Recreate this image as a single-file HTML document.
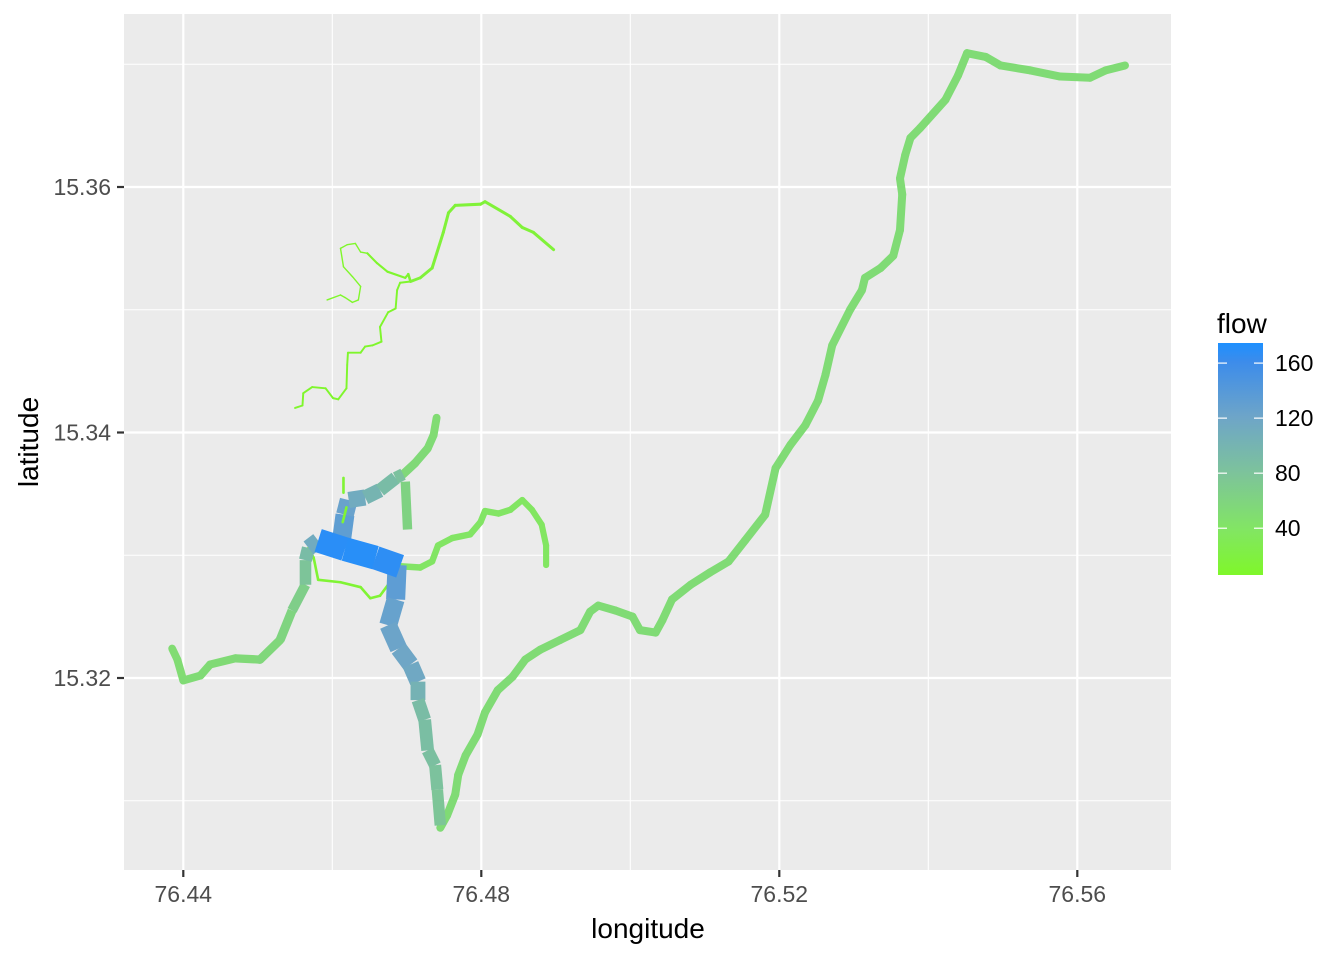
<!DOCTYPE html>
<html><head><meta charset="utf-8"><style>
html,body{margin:0;padding:0;background:#fff;}
svg{display:block;font-family:"Liberation Sans",sans-serif;}
</style></head><body>
<svg id="chart" width="1344" height="960" viewBox="0 0 1344 960">
<rect x="0" y="0" width="1344" height="960" fill="#fff"/>
<rect x="124" y="14" width="1047" height="856" fill="#EBEBEB"/>
<g id="grid"></g>
<g id="rivers"></g>
<g id="axes"></g>
<text x="648" y="938" text-anchor="middle" font-size="28" fill="#000">longitude</text>
<text x="38" y="442" text-anchor="middle" font-size="28" fill="#000" transform="rotate(-90 38 442)">latitude</text>
<g id="legend">
<text x="1217" y="333" font-size="28" fill="#000">flow</text>
<defs><linearGradient id="fg" x1="0" y1="1" x2="0" y2="0">
<stop offset="0" stop-color="#7FF72A"/><stop offset="0.2" stop-color="#82E564"/><stop offset="0.44" stop-color="#7DC39B"/><stop offset="0.68" stop-color="#6EA5C8"/><stop offset="0.92" stop-color="#3C8CEB"/><stop offset="1" stop-color="#1E90FF"/>
</linearGradient></defs>
<rect x="1218" y="343" width="45" height="232" fill="url(#fg)"/>
</g>
</svg>
<script>
const xTicks=[76.44,76.48,76.52,76.56];
const xMinor=[76.46,76.50,76.54];
const yTicks=[15.32,15.34,15.36];
const yMinor=[15.31,15.33,15.35,15.37];
const legendTicks=[40,80,120,160];

const mainLon=[76.4745,76.4754,76.4765,76.4769,76.4779,76.4795,76.4805,76.4822,76.4842,76.4859,76.4879,76.4906,76.4933,76.4946,76.4957,76.4980,76.5003,76.5013,76.5034,76.5043,76.5056,76.5081,76.5107,76.5132,76.5154,76.5181,76.5195,76.5215,76.5235,76.5252,76.5262,76.5271,76.5295,76.5311,76.5315,76.5336,76.5353,76.5362,76.5365,76.5362,76.5369,76.5376,76.5389,76.5423,76.5440,76.5452,76.5477,76.5497,76.5537,76.5577,76.5617,76.5638,76.5664];
const mainLat=[15.3078,15.3088,15.3105,15.3121,15.3137,15.3154,15.3172,15.3190,15.3201,15.3215,15.3223,15.3231,15.3239,15.3254,15.3259,15.3255,15.3250,15.3239,15.3237,15.3247,15.3264,15.3276,15.3286,15.3295,15.3312,15.3333,15.3371,15.3390,15.3406,15.3426,15.3447,15.3471,15.3500,15.3516,15.3526,15.3534,15.3544,15.3565,15.3594,15.3607,15.3626,15.3640,15.3648,15.3671,15.3691,15.3709,15.3706,15.3699,15.3695,15.3690,15.3689,15.3695,15.3699];
const mainFlow=[52];

const southLon=[76.4687,76.4685,76.4675,76.4689,76.4705,76.4715,76.4715,76.4724,76.4728,76.4738,76.4741,76.4745];
const southLat=[15.3292,15.3264,15.3243,15.3224,15.3211,15.3197,15.3182,15.3166,15.3141,15.3129,15.3109,15.3080];
const southFlow=[140,128,124,120,118,115,90,88,86,84,80,75];

const centerLon=[76.4581,76.4617,76.4658,76.4691];
const centerLat=[15.3312,15.3305,15.3298,15.3291];
const centerFlow=[168,170,170,165];

const westLon=[76.4385,76.4392,76.4400,76.4423,76.4436,76.4470,76.4503,76.4530,76.4546,76.4564,76.4564,76.4568,76.4581];
const westLat=[15.3224,15.3215,15.3198,15.3202,15.3211,15.3216,15.3215,15.3231,15.3255,15.3276,15.3296,15.3306,15.3312];
const westFlow=[50,50,52,52,52,53,55,58,62,72,85,95,130];

const upLon=[76.4611,76.4617,76.4622,76.4644,76.4664,76.4685,76.4695];
const upLat=[15.3306,15.3333,15.3345,15.3347,15.3353,15.3363,15.3366];
const upFlow=[135,130,120,105,95,85,80];

const neLon=[76.4695,76.4711,76.4728,76.4736,76.4740];
const neLat=[15.3366,15.3375,15.3387,15.3398,15.3412];
const neFlow=[55,55,52,52,50];

const stubLon=[76.4698,76.4701];
const stubLat=[15.3360,15.3321];
const stubFlow=[62,62];

const eastLon=[76.4691,76.4718,76.4734,76.4742,76.4761,76.4785,76.4799,76.4805,76.4823,76.4839,76.4855,76.4868,76.4881,76.4887,76.4887];
const eastLat=[15.3291,15.3290,15.3295,15.3308,15.3314,15.3317,15.3327,15.3336,15.3334,15.3337,15.3345,15.3337,15.3325,15.3308,15.3292];
const eastFlow=[42,40,40,40,40,40,40,40,40,40,38,38,38,38,38];

const loopLon=[76.4568,76.4575,76.4581,76.4611,76.4638,76.4651,76.4664,76.4675,76.4685,76.4691];
const loopLat=[15.3306,15.3298,15.3280,15.3278,15.3274,15.3265,15.3267,15.3276,15.3284,15.3291];
const loopFlow=[12,12,12,12,12,12,12,12,12,12];

const tipLon=[76.4615,76.4615];
const tipLat=[15.3363,15.3351];
const tipFlow=[12,12];
const tip2Lon=[76.4619,76.4614];
const tip2Lat=[15.3339,15.3327];
const tip2Flow=[12,12];

const n1Lon=[76.4647,76.4660,76.4674,76.4698,76.4702,76.4705,76.4718,76.4734,76.4749,76.4756,76.4765,76.4799,76.4805,76.4839,76.4855,76.4870,76.4897];
const n1Lat=[15.3546,15.3538,15.3531,15.3526,15.3529,15.3523,15.3526,15.3534,15.3563,15.3579,15.3585,15.3586,15.3588,15.3576,15.3567,15.3563,15.3549];
const n1Flow=[8,8,8,9,9,14,14,15,15,15,15,15,15,15,15,15,15];

const n2Lon=[76.4705,76.4691,76.4687,76.4685,76.4675,76.4664,76.4666,76.4654,76.4644,76.4638,76.4621,76.4620,76.4619,76.4608,76.4601,76.4591,76.4573,76.4561,76.4560,76.4550];
const n2Lat=[15.3523,15.3522,15.3516,15.3501,15.3498,15.3486,15.3474,15.3471,15.3470,15.3465,15.3465,15.3455,15.3436,15.3427,15.3428,15.3436,15.3437,15.3432,15.3422,15.3420];
const n2Flow=[7,7,7,7,7,7,7,7,7,7,7,7,7,7,7,7,7,7,7,7];

const n3Lon=[76.4647,76.4638,76.4631,76.4620,76.4611,76.4615,76.4627,76.4638,76.4635,76.4627,76.4617,76.4611,76.4593];
const n3Lat=[15.3546,15.3547,15.3554,15.3553,15.3550,15.3535,15.3527,15.3519,15.3508,15.3506,15.3510,15.3512,15.3508];
const n3Flow=[3,3,3,3,3,3,3,3,3,3,3,3,3];

const X0=76.44,XPX0=183.3,XS=7450;
const Y0=15.36,YPX0=187,YS=12275;
function sx(v){return XPX0+(v-X0)*XS;}
function sy(v){return YPX0-(v-Y0)*YS;}
const FMIN=6,FMAX=174.6;
function fy(v){return 575-(v-FMIN)/(FMAX-FMIN)*232;}
const stops=[[0,[127,247,42]],[0.2,[130,229,100]],[0.44,[125,195,155]],[0.68,[110,165,200]],[0.92,[60,140,235]],[1,[30,144,255]]];
function col(f){
  let t=Math.max(0,Math.min(1,(f-FMIN)/(FMAX-FMIN)));
  for(let i=1;i<stops.length;i++){ if(t<=stops[i][0]){
    const a=stops[i-1],b=stops[i],u=(t-a[0])/(b[0]-a[0]);
    const c=a[1].map((v,k)=>Math.round(v+(b[1][k]-v)*u));
    return 'rgb('+c.join(',')+')';}}
  return 'rgb(30,144,255)';
}
function wid(f){return 1.0+f*0.135;}
const NS='http://www.w3.org/2000/svg';
function mk(tag,attrs,parent){const e=document.createElementNS(NS,tag);for(const k in attrs)e.setAttribute(k,attrs[k]);parent.appendChild(e);return e;}

const grid=document.getElementById('grid');
xMinor.forEach(v=>{const l=mk('line',{x1:sx(v),x2:sx(v),y1:14,y2:870,stroke:'#fff','stroke-width':1.1},grid);

});
yMinor.forEach(v=>{const l=mk('line',{x1:124,x2:1171,y1:sy(v),y2:sy(v),stroke:'#fff','stroke-width':1.1},grid);

});
xTicks.forEach(v=>{const l=mk('line',{x1:sx(v),x2:sx(v),y1:14,y2:870,stroke:'#fff','stroke-width':2.2},grid);

});
yTicks.forEach(v=>{const l=mk('line',{x1:124,x2:1171,y1:sy(v),y2:sy(v),stroke:'#fff','stroke-width':2.2},grid);

});

const axes=document.getElementById('axes');
xTicks.forEach(v=>{
  const t=mk('line',{x1:sx(v),x2:sx(v),y1:870,y2:877,stroke:'#333','stroke-width':2.2},axes);
  
  
  const tx=mk('text',{x:sx(v),y:902,'text-anchor':'middle','font-size':23,fill:'#4D4D4D'},axes);
  tx.textContent=v.toFixed(2);
  
  
});
yTicks.forEach(v=>{
  const t=mk('line',{x1:117,x2:124,y1:sy(v),y2:sy(v),stroke:'#333','stroke-width':2.2},axes);
  
  
  const tx=mk('text',{x:111,y:sy(v)+8,'text-anchor':'end','font-size':23,fill:'#4D4D4D'},axes);
  tx.textContent=v.toFixed(2);
  
  
});

const rg=document.getElementById('rivers');
function river(lon,lat,flow,name){
  const g=mk('g',{},rg);
  
  
  for(let i=0;i<lon.length-1;i++){
    const f=flow.length===1?flow[0]:(flow[i]+flow[i+1])/2;
    const s=mk('line',{x1:sx(lon[i]),y1:sy(lat[i]),x2:sx(lon[i+1]),y2:sy(lat[i+1]),stroke:col(f),'stroke-width':wid(f),'stroke-linecap':f<60?'round':'butt'},g);
    
    
  }
}
river(n3Lon,n3Lat,n3Flow,'north-tributary-small');
river(n2Lon,n2Lat,n2Flow,'north-tributary-west');
river(n1Lon,n1Lat,n1Flow,'north-stream');
river(loopLon,loopLat,loopFlow,'side-channel');
river(eastLon,eastLat,eastFlow,'east-tributary');
river(westLon,westLat,westFlow,'west-river');
river(neLon,neLat,neFlow,'northeast-tributary');
river(stubLon,stubLat,stubFlow,'stub-tributary');
river(upLon,upLat,upFlow,'upper-reach');
river(mainLon,mainLat,mainFlow,'main-east-river');
river(southLon,southLat,southFlow,'south-trunk');
river(centerLon,centerLat,centerFlow,'central-reach');
river(tipLon,tipLat,tipFlow,'tip-stream');
river(tip2Lon,tip2Lat,tip2Flow,'tip-stream-2');

const lg=document.getElementById('legend');
legendTicks.forEach(v=>{
  const a=mk('line',{x1:1218,x2:1227,y1:fy(v),y2:fy(v),stroke:'#fff','stroke-width':1.2},lg);
  
  
  const b=mk('line',{x1:1254,x2:1263,y1:fy(v),y2:fy(v),stroke:'#fff','stroke-width':1.2},lg);
  
  
  const t=mk('text',{x:1275,y:fy(v)+8,'font-size':23,fill:'#000'},lg);
  t.textContent=v;
  
  
});
</script>
</body></html>
